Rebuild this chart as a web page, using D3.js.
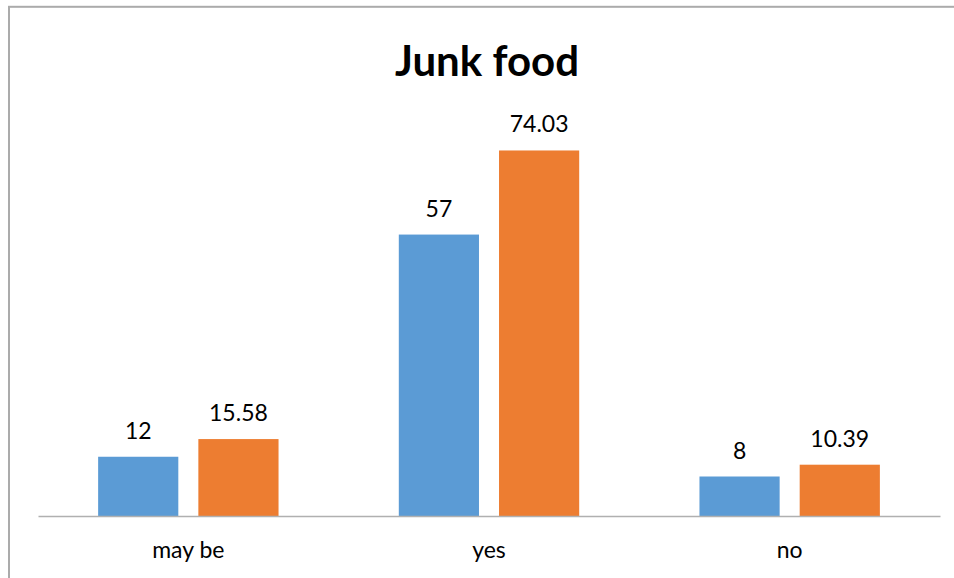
<!DOCTYPE html>
<html>
<head>
<meta charset="utf-8">
<script src="https://cdn.jsdelivr.net/npm/d3@7"></script>
<style>
    html, body { margin: 0; padding: 0; background: #ffffff; }
    svg { display: block; font-family: Lato, "Open Sans", sans-serif; }
</style>
</head>
<body>
<svg id="chart"></svg>
<script>
// data
const categories = ['may be', 'yes', 'no'];
const seriesNames = ['count', 'percent'];
const countValues = [12, 57, 8];
const percentValues = [15.58, 74.03, 10.39];
const titleText = 'Junk food';

// layout
const svgWidth = 954;
const svgHeight = 578;
const plot = { left: 38, right: 940, top: 121, bottom: 516 };
const colors = { count: '#5B9BD5', percent: '#ED7D31' };

// svg
const svg = d3.select('#chart')
    .attr('width', svgWidth)
    .attr('height', svgHeight);

// outer frame of the chart (right and bottom edges fall outside the picture)
svg.append('rect')
    .attr('x', 9)
    .attr('y', 6.8)
    .attr('width', 1000)
    .attr('height', 1000)
    .attr('fill', 'none')
    .attr('stroke', '#ABABAB')
    .attr('stroke-width', 2);

// title
svg.append('text')
    .attr('x', 487)
    .attr('y', 76)
    .attr('text-anchor', 'middle')
    .style('font-size', '42px')
    .style('font-weight', 'bold')
    .attr('fill', '#000000')
    .text(titleText);

// scales
const x = d3.scaleBand()
    .domain(categories)
    .range([plot.left, plot.right]);

const xInner = d3.scaleBand()
    .domain(seriesNames)
    .range([x.bandwidth() * 0.2, x.bandwidth() * 0.8])
    .paddingInner(0.2);

const y = d3.scaleLinear()
    .domain([0, 80])
    .range([plot.bottom, plot.top]);

// rows for drawing
const rows = categories.map((c, i) => ({
    category: c,
    values: [
        { series: 'count', value: countValues[i] },
        { series: 'percent', value: percentValues[i] }
    ]
}));

// bars and labels
const groups = svg.append('g')
    .selectAll('g')
    .data(rows)
    .join('g')
    .attr('transform', d => `translate(${x(d.category)},0)`);

groups.selectAll('rect')
    .data(d => d.values)
    .join('rect')
    .attr('x', d => xInner(d.series))
    .attr('y', d => y(d.value))
    .attr('width', xInner.bandwidth())
    .attr('height', d => y(0) - y(d.value))
    .attr('fill', d => colors[d.series]);

groups.selectAll('text')
    .data(d => d.values)
    .join('text')
    .attr('x', d => xInner(d.series) + xInner.bandwidth() / 2)
    .attr('y', d => y(d.value) - 18)
    .attr('text-anchor', 'middle')
    .style('font-size', '23px')
    .attr('fill', '#000000')
    .text(d => d.value);

// x axis
const xAxis = d3.axisBottom(x).tickSize(0).tickPadding(26);

const axisG = svg.append('g')
    .attr('transform', `translate(0,${plot.bottom})`)
    .call(xAxis);

axisG.select('.domain')
    .attr('stroke', '#B0B0B0')
    .attr('stroke-width', 1.3);

axisG.selectAll('text')
    .style('font-size', '23px')
    .style('font-family', 'Lato, "Open Sans", sans-serif')
    .attr('fill', '#000000');
</script>
</body>
</html>
